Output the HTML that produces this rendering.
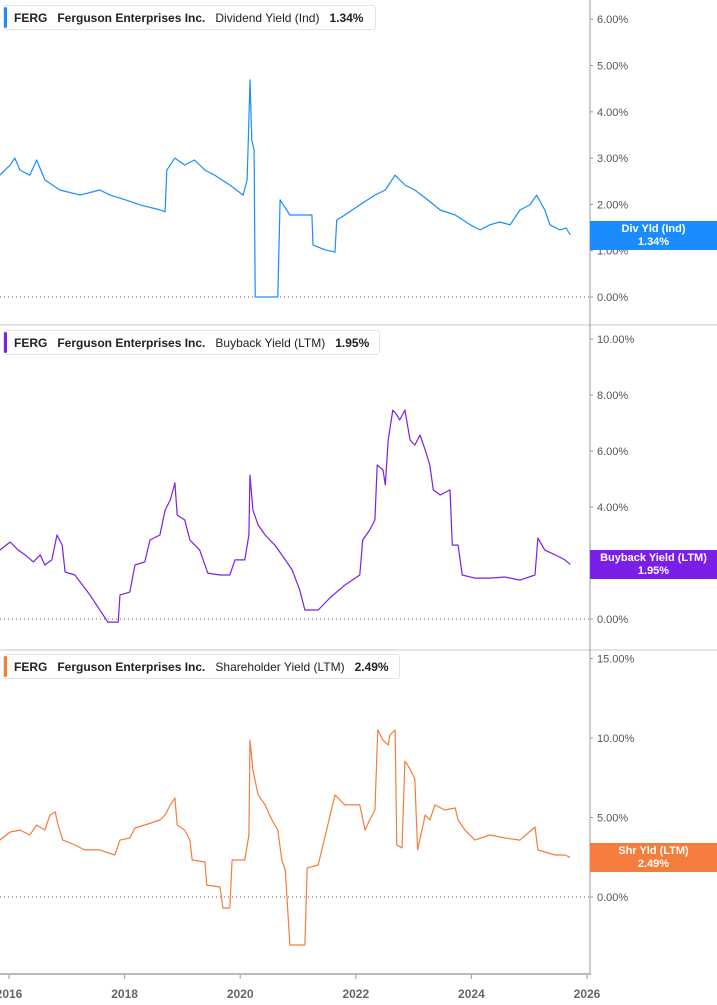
<!DOCTYPE html>
<html><head><meta charset="utf-8">
<style>
body{margin:0;background:#fff;font-family:"Liberation Sans",sans-serif;}
#wrap{position:relative;width:717px;height:1005px;overflow:hidden;}
.legend{position:absolute;left:3px;height:25px;border:1px solid #e4e4e4;border-radius:3px;background:#fff;font-size:12px;font-weight:bold;color:#222;line-height:25px;padding-left:10px;box-sizing:border-box;white-space:nowrap;}
.legend .bar{position:absolute;left:0;top:1px;width:3px;height:21px;border-radius:2px;}
.legend span{margin-right:10px;}
.legend .n{font-weight:normal;}
.vbox{position:absolute;left:590px;width:127px;height:29px;color:#fff;font-size:11px;font-weight:bold;text-align:center;line-height:13px;padding-top:2px;box-sizing:border-box;}
</style></head><body>
<div id="wrap">
<svg id="svg" width="717" height="1005" style="position:absolute;left:0;top:0"></svg>
<div class="legend" style="top:5px;width:373px"><div class="bar" style="background:#1a8cff"></div><span>FERG</span><span>Ferguson Enterprises Inc.</span><span class="n">Dividend Yield (Ind)</span><span>1.34%</span></div>
<div class="legend" style="top:330px;width:377px"><div class="bar" style="background:#7b1fe8"></div><span>FERG</span><span>Ferguson Enterprises Inc.</span><span class="n">Buyback Yield (LTM)</span><span>1.95%</span></div>
<div class="legend" style="top:654px;width:397px"><div class="bar" style="background:#f47c3c"></div><span>FERG</span><span>Ferguson Enterprises Inc.</span><span class="n">Shareholder Yield (LTM)</span><span>2.49%</span></div>
<div class="vbox" style="top:221px;background:#1a8cff">Div Yld (Ind)<br>1.34%</div>
<div class="vbox" style="top:550px;background:#7b1fe8">Buyback Yield (LTM)<br>1.95%</div>
<div class="vbox" style="top:843px;background:#f47c3c">Shr Yld (LTM)<br>2.49%</div>
</div>
<script>
const xTickYears=[2016,2018,2020,2022,2024,2026];
const divYears=[2015.84,2016.02,2016.10,2016.19,2016.36,2016.48,2016.62,2016.88,2017.23,2017.57,2017.75,2018.01,2018.27,2018.62,2018.70,2018.73,2018.87,2019.04,2019.21,2019.39,2019.56,2019.82,2020.05,2020.12,2020.15,2020.17,2020.20,2020.24,2020.26,2020.65,2020.69,2020.86,2021.03,2021.24,2021.26,2021.47,2021.64,2021.67,2021.81,2022.07,2022.33,2022.51,2022.68,2022.85,2023.02,2023.20,2023.46,2023.72,2023.98,2024.15,2024.32,2024.49,2024.67,2024.84,2025.01,2025.13,2025.27,2025.36,2025.53,2025.64,2025.71];
const divValues=[2.63,2.85,3.00,2.74,2.63,2.96,2.53,2.31,2.20,2.31,2.20,2.10,1.99,1.88,1.84,2.74,3.00,2.85,2.96,2.74,2.63,2.42,2.20,2.53,3.82,4.69,3.39,3.17,0,0,2.10,1.77,1.77,1.77,1.12,1.02,0.97,1.66,1.77,1.99,2.20,2.31,2.63,2.42,2.31,2.14,1.88,1.77,1.56,1.45,1.56,1.62,1.56,1.88,1.99,2.20,1.88,1.56,1.45,1.49,1.34];
const divTicks=[0,1,2,3,4,5,6];
const bbYears=[2015.84,2016.02,2016.16,2016.28,2016.42,2016.54,2016.62,2016.74,2016.83,2016.92,2016.97,2017.14,2017.40,2017.71,2017.89,2017.92,2018.09,2018.18,2018.35,2018.44,2018.61,2018.70,2018.79,2018.87,2018.91,2019.04,2019.13,2019.30,2019.44,2019.65,2019.82,2019.91,2020.08,2020.15,2020.17,2020.22,2020.31,2020.43,2020.60,2020.78,2020.90,2021.03,2021.12,2021.35,2021.55,2021.81,2022.07,2022.12,2022.24,2022.33,2022.37,2022.47,2022.51,2022.56,2022.64,2022.71,2022.76,2022.85,2022.94,2023.02,2023.11,2023.20,2023.28,2023.34,2023.46,2023.63,2023.67,2023.77,2023.84,2024.06,2024.32,2024.58,2024.84,2025.10,2025.15,2025.27,2025.45,2025.62,2025.71];
const bbValues=[2.46,2.75,2.46,2.29,2.04,2.29,1.93,2.11,3.00,2.64,1.68,1.57,0.86,-0.11,-0.11,0.86,0.96,1.93,2.04,2.82,3.00,3.89,4.25,4.86,3.71,3.54,2.82,2.46,1.64,1.57,1.57,2.11,2.11,3.00,5.14,3.89,3.36,3.00,2.64,2.11,1.75,1.04,0.32,0.32,0.75,1.21,1.57,2.82,3.18,3.54,5.50,5.32,4.79,6.39,7.46,7.29,7.11,7.46,6.39,6.21,6.57,6.04,5.50,4.61,4.43,4.61,2.64,2.64,1.57,1.46,1.46,1.50,1.39,1.57,2.89,2.46,2.29,2.11,1.95];
const bbTicks=[0,2,4,6,8,10];
const shYears=[2015.84,2016.02,2016.19,2016.36,2016.48,2016.62,2016.71,2016.80,2016.85,2016.93,2017.14,2017.31,2017.57,2017.83,2017.92,2018.09,2018.18,2018.35,2018.61,2018.70,2018.79,2018.87,2018.91,2019.04,2019.13,2019.17,2019.39,2019.42,2019.65,2019.70,2019.82,2019.86,2020.08,2020.15,2020.17,2020.22,2020.31,2020.43,2020.55,2020.65,2020.72,2020.78,2020.86,2021.12,2021.16,2021.35,2021.64,2021.81,2022.07,2022.16,2022.24,2022.33,2022.38,2022.47,2022.56,2022.59,2022.68,2022.71,2022.80,2022.85,2022.94,2023.02,2023.07,2023.20,2023.28,2023.37,2023.54,2023.72,2023.77,2023.89,2024.06,2024.32,2024.58,2024.84,2025.10,2025.15,2025.27,2025.45,2025.62,2025.71];
const shValues=[3.58,4.09,4.21,3.90,4.53,4.21,5.16,5.35,4.53,3.58,3.27,2.96,2.96,2.64,3.58,3.71,4.34,4.53,4.84,5.16,5.79,6.23,4.53,4.21,3.58,2.33,2.20,0.75,0.63,-0.69,-0.69,2.33,2.33,3.90,9.87,7.99,6.42,5.79,4.84,4.21,2.33,1.70,-3.02,-3.02,1.83,2.01,6.42,5.79,5.79,4.21,4.84,5.47,10.5,9.87,9.56,10.19,10.5,3.27,3.08,8.55,8.05,7.42,2.96,5.16,4.84,5.79,5.47,5.60,4.84,4.21,3.58,3.90,3.71,3.58,4.40,2.96,2.83,2.64,2.64,2.49];
const shTicks=[0,5,10,15];

const svg=document.getElementById('svg');
const NS='http://www.w3.org/2000/svg';
function mk(tag,attrs){const e=document.createElementNS(NS,tag);for(const k in attrs)e.setAttribute(k,attrs[k]);svg.appendChild(e);return e;}
const xScale=y=>9+(y-2016)*57.8;
const panels=[
 {years:divYears,vals:divValues,ticks:divTicks,zeroY:297,pxPer:46.3,color:'#1a8cff',name:'dividend-yield'},
 {years:bbYears,vals:bbValues,ticks:bbTicks,zeroY:619,pxPer:28,color:'#7b1fe8',name:'buyback-yield'},
 {years:shYears,vals:shValues,ticks:shTicks,zeroY:897,pxPer:15.9,color:'#f47c3c',name:'shareholder-yield'}
];
// separators
[325,650].forEach(y=>{const l=mk('line',{x1:0,x2:717,y1:y,y2:y,stroke:'#c8c8c8','stroke-width':1});

});
// right axis
const ax=mk('line',{x1:590,x2:590,y1:0,y2:975,stroke:'#999','stroke-width':1});


panels.forEach(p=>{
 const ys=v=>p.zeroY-v*p.pxPer;
 const z=mk('line',{x1:0,x2:590,y1:p.zeroY,y2:p.zeroY,stroke:'#666','stroke-width':1,'stroke-dasharray':'1,3'});
 
 
 p.ticks.forEach(t=>{
  const y=ys(t);
  mk('line',{x1:590,x2:593,y1:y,y2:y,stroke:'#999'});
  const tx=mk('text',{x:597,y:y+4,'font-size':11,fill:'#555','font-family':'Liberation Sans,sans-serif'});
  tx.textContent=t.toFixed(2)+'%';
  
  
 });
 const d=p.years.map((yr,i)=>(i?'L':'M')+xScale(yr).toFixed(1)+','+ys(p.vals[i]).toFixed(1)).join('');
 const path=mk('path',{d:d,fill:'none',stroke:p.color,'stroke-width':1.2,'stroke-linejoin':'round'});
 
 
});
// x axis
const xl=mk('line',{x1:0,x2:591,y1:974,y2:974,stroke:'#bbb','stroke-width':2});


xTickYears.forEach(yr=>{
 const x=xScale(yr);
 mk('line',{x1:x,x2:x,y1:975,y2:979,stroke:'#999'});
 const t=mk('text',{x:x,y:998,'font-size':12,'font-weight':'bold',fill:'#666','text-anchor':'middle','font-family':'Liberation Sans,sans-serif'});
 t.textContent=yr;
 
 
});
</script>
</body></html>
